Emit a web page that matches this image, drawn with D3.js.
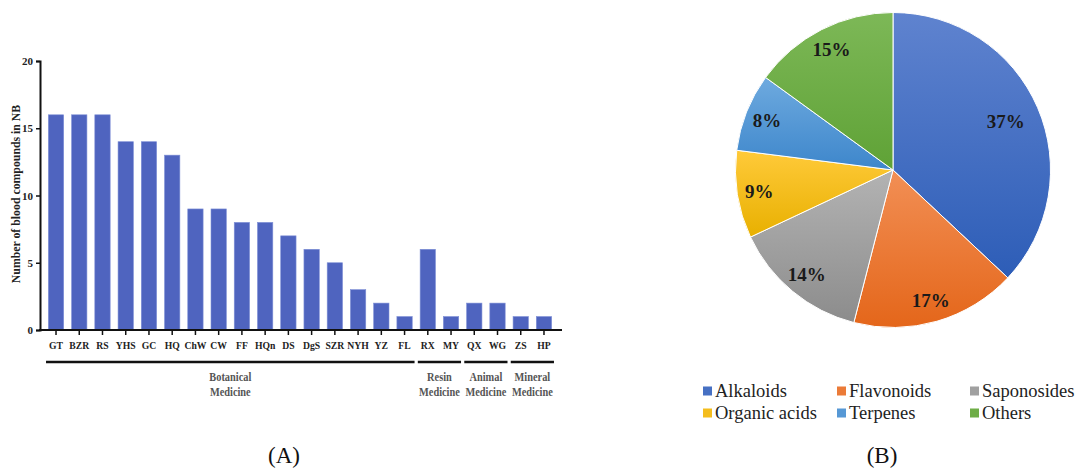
<!DOCTYPE html>
<html>
<head>
<meta charset="utf-8">
<script src="https://cdn.jsdelivr.net/npm/d3@7"></script>
<style>
  body { margin: 0; background: #fff; }
  svg { display: block; font-family: "Liberation Serif", "DejaVu Serif", serif; }
</style>
</head>
<body>
<svg id="fig" width="1083" height="469"></svg>
<script>
// bar panel (A)
const herbs = ["GT","BZR","RS","YHS","GC","HQ","ChW","CW","FF","HQn","DS","DgS","SZR","NYH","YZ","FL","RX","MY","QX","WG","ZS","HP"];
const compounds = [16,16,16,14,14,13,9,9,8,8,7,6,5,3,2,1,6,1,2,2,1,1];
const yTicks = [0,5,10,15,20];
const groupNames = [["Botanical","Medicine"],["Resin","Medicine"],["Animal","Medicine"],["Mineral","Medicine"]];
const groupFirst = ["GT","RX","QX","ZS"];
const groupLast = ["FL","MY","WG","HP"];

// pie panel (B)
const classes = ["Alkaloids","Flavonoids","Saponosides","Organic acids","Terpenes","Others"];
const shares = [37,17,14,9,8,15];
const topColors = ["#5f83cf","#f28f55","#b3b3b3","#ffca3a","#6eaadf","#7db857"];
const bottomColors = ["#2d5db7","#e4661a","#8c8c8c","#e8b000","#3d86cb","#5fa236"];

const svg = d3.select("#fig");

// ---------- (A) bars ----------
const x = d3.scaleBand().domain(herbs).range([44.4, 555.6]).paddingInner(0.34).paddingOuter(0.17);
const y = d3.scaleLinear().domain([0, 20]).range([330, 61]);

const barG = svg.append("g");

barG.selectAll("rect.bar")
  .data(herbs.map((h, i) => ({ h, v: compounds[i] })))
  .join("rect")
  .attr("class", "bar")
  .attr("x", d => x(d.h))
  .attr("y", d => y(d.v))
  .attr("width", x.bandwidth())
  .attr("height", d => y(0) - y(d.v))
  .attr("fill", "#4f64bf")
  .attr("stroke", "#7e8fd6")
  .attr("stroke-width", 0.6);

// y axis
const yAxis = barG.append("g")
  .attr("transform", "translate(40,0)")
  .call(d3.axisLeft(y).tickValues(yTicks).tickSize(4).tickPadding(3));
yAxis.select(".domain").attr("stroke", "#111").attr("stroke-width", 2);
yAxis.selectAll(".tick line").attr("stroke", "#111").attr("stroke-width", 1.5);
yAxis.selectAll(".tick text")
  .attr("font-family", "Liberation Serif")
  .attr("font-size", 11).attr("font-weight", "bold").attr("fill", "#222");

// x axis
const xAxisG = barG.append("g").attr("transform", "translate(0,330)");
xAxisG.append("line")
  .attr("x1", 39).attr("x2", 562)
  .attr("stroke", "#111").attr("stroke-width", 2.2);
xAxisG.selectAll("line.tk")
  .data(herbs)
  .join("line")
  .attr("class", "tk")
  .attr("x1", d => x(d) + x.bandwidth() / 2)
  .attr("x2", d => x(d) + x.bandwidth() / 2)
  .attr("y1", 0).attr("y2", 5)
  .attr("stroke", "#111").attr("stroke-width", 1.5);
xAxisG.selectAll("text")
  .data(herbs)
  .join("text")
  .attr("transform", d => `translate(${x(d) + x.bandwidth() / 2},19) scale(0.88,1)`)
  .attr("text-anchor", "middle")
  .attr("font-size", 11).attr("font-weight", "bold").attr("fill", "#222")
  .text(d => d);

barG.append("text")
  .attr("transform", "translate(20,194) rotate(-90)")
  .attr("text-anchor", "middle")
  .attr("font-size", 11.8).attr("font-weight", "bold").attr("fill", "#222")
  .text("Number of blood compounds in NB");

// group brackets
const step = x.step();
const groups = groupNames.map((n, i) => ({
  name: n,
  x1: x(groupFirst[i]) - step * 0.1,
  x2: x(groupLast[i]) + x.bandwidth() + step * 0.1
}));
const gg = barG.append("g").selectAll("g").data(groups).join("g");
gg.append("line")
  .attr("x1", d => d.x1).attr("x2", d => d.x2)
  .attr("y1", 362).attr("y2", 362)
  .attr("stroke", "#111").attr("stroke-width", 2.4);
gg.each(function(d) {
  const cx = (d.x1 + d.x2) / 2;
  d3.select(this).selectAll("text.gn")
    .data(d.name)
    .join("text")
    .attr("class", "gn")
    .attr("transform", (t, i) => `translate(${cx},${381 + i * 14.5}) scale(0.9,1)`)
    .attr("text-anchor", "middle")
    .attr("font-size", 11.5).attr("font-weight", "bold").attr("fill", "#555")
    .text(t => t);
});

svg.append("text")
  .attr("x", 284).attr("y", 463)
  .attr("text-anchor", "middle")
  .attr("font-size", 23).attr("fill", "#111")
  .text("(A)");

// ---------- (B) pie ----------
const cx = 893, cy = 170, r = 157.5;
const defs = svg.append("defs");
classes.forEach((c, i) => {
  const lg = defs.append("linearGradient")
    .attr("id", "grad" + i)
    .attr("x1", 0).attr("y1", 0).attr("x2", 0).attr("y2", 1);
  lg.append("stop").attr("offset", "0%").attr("stop-color", topColors[i]);
  lg.append("stop").attr("offset", "100%").attr("stop-color", bottomColors[i]);
});

const pie = d3.pie().sort(null).value(d => d.v);
const arcs = pie(classes.map((c, i) => ({ c, v: shares[i], i })));
const arc = d3.arc().innerRadius(0).outerRadius(r);

const pieG = svg.append("g").attr("transform", `translate(${cx},${cy})`);
pieG.selectAll("path")
  .data(arcs)
  .join("path")
  .attr("d", arc)
  .attr("fill", d => `url(#grad${d.data.i})`)
  .attr("stroke", "#fff")
  .attr("stroke-width", 1);

pieG.selectAll("text")
  .data(arcs)
  .join("text")
  .attr("transform", d => {
    const a = (d.startAngle + d.endAngle) / 2;
    const lr = r * (d.data.v > 30 ? 0.78 : 0.86);
    return `translate(${Math.sin(a) * lr},${-Math.cos(a) * lr})`;
  })
  .attr("text-anchor", "middle")
  .attr("dy", "0.35em")
  .attr("font-size", 19).attr("font-weight", "bold").attr("fill", "#1a1a1a")
  .text(d => d.data.v + "%");

// legend
const legCols = [703, 837, 970];
const legRows = [391, 413];
const leg = svg.append("g").selectAll("g")
  .data(classes.map((c, i) => ({ c, i })))
  .join("g")
  .attr("transform", d => `translate(${legCols[d.i % 3]},${legRows[Math.floor(d.i / 3)]})`);
leg.append("rect")
  .attr("x", 0).attr("y", -4.5)
  .attr("width", 9).attr("height", 9)
  .attr("fill", d => d3.interpolateRgb(topColors[d.i], bottomColors[d.i])(0.5));
leg.append("text")
  .attr("x", 12).attr("y", 0)
  .attr("dy", "0.35em")
  .attr("font-size", 18.5).attr("fill", "#222")
  .text(d => d.c);

svg.append("text")
  .attr("x", 882).attr("y", 463)
  .attr("text-anchor", "middle")
  .attr("font-size", 23).attr("fill", "#111")
  .text("(B)");
</script>
</body>
</html>
